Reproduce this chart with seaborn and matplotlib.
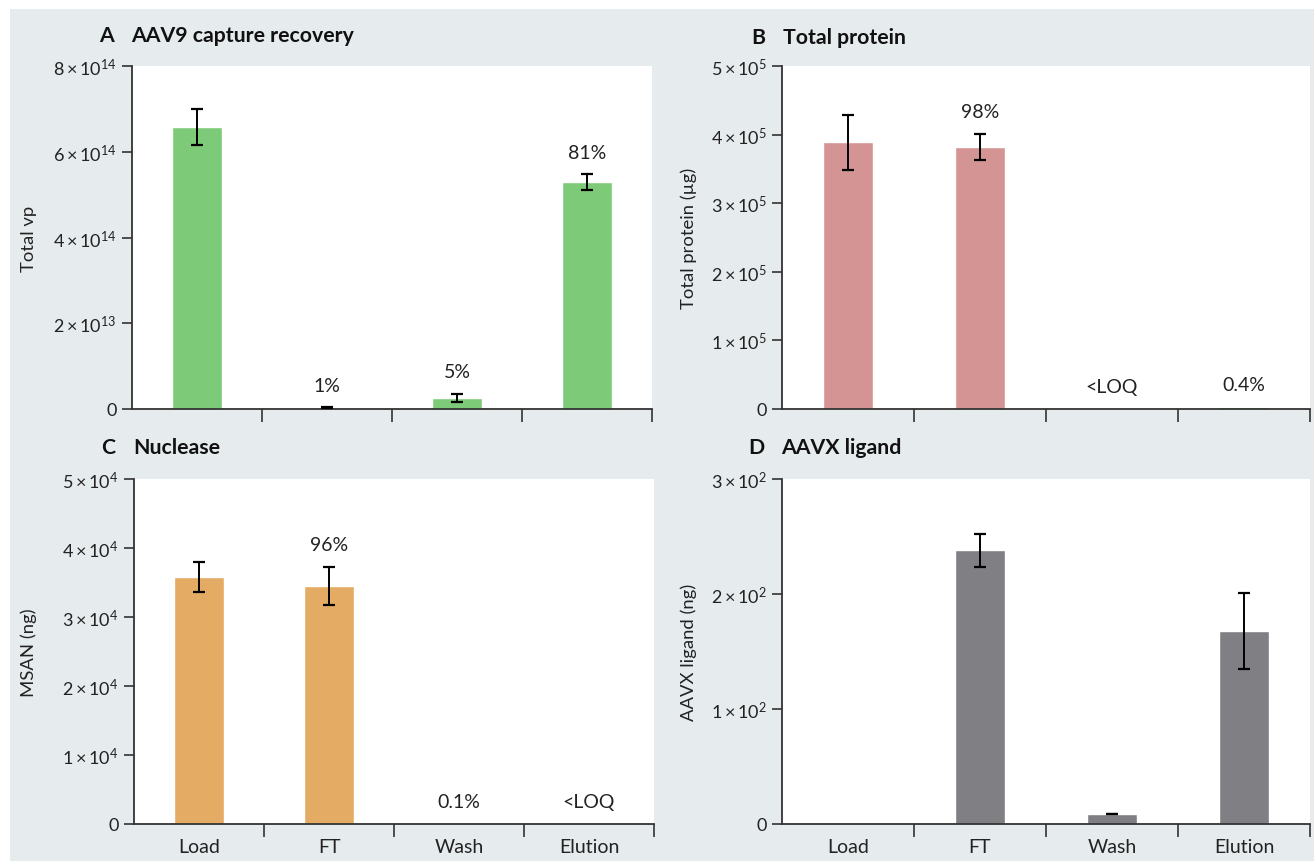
import numpy as np
import pandas as pd
import matplotlib
matplotlib.use("Agg")
import matplotlib.pyplot as plt
from matplotlib.patches import Rectangle
import seaborn as sns

# data
steps = ["Load", "FT", "Wash", "Elution"]

aav9_vp = [6.58e14, 0.03e14, 0.26e14, 5.29e14]
aav9_err = [0.42e14, 0.015e14, 0.10e14, 0.19e14]
aav9_pct = [None, "1%", "5%", "81%"]
aav9_ticks = [0, 2e14, 4e14, 6e14, 8e14]
aav9_ticklabels = ["0", r"$2\times10^{13}$", r"$4\times10^{14}$", r"$6\times10^{14}$", r"$8\times10^{14}$"]

protein_ug = [3.89e5, 3.82e5, 0, 0.035e5]
protein_err = [0.40e5, 0.19e5, np.nan, np.nan]
protein_pct = [None, "98%", "<LOQ", "0.4%"]
protein_ticks = [0, 1e5, 2e5, 3e5, 4e5, 5e5]
protein_ticklabels = ["0"] + [r"$%d\times10^{5}$" % i for i in range(1, 6)]

msan_ng = [3.58e4, 3.45e4, 35, 0]
msan_err = [0.22e4, 0.28e4, np.nan, np.nan]
msan_pct = [None, "96%", "0.1%", "<LOQ"]
msan_ticks = [0, 1e4, 2e4, 3e4, 4e4, 5e4]
msan_ticklabels = ["0"] + [r"$%d\times10^{4}$" % i for i in range(1, 6)]

ligand_ng = [0, 238, 8.7, 168]
ligand_err = [np.nan, 14.5, 0.4, 33]
ligand_pct = [None, None, None, None]
ligand_ticks = [0, 100, 200, 300]
ligand_ticklabels = ["0"] + [r"$%d\times10^{2}$" % i for i in range(1, 4)]

green = "#7dcb78"
pink = "#d49494"
orange = "#e3ab63"
grey = "#808084"
bg = "#e6ebed"

sns.set_theme(style="white")
plt.rcParams["font.family"] = ["Lato", "DejaVu Sans"]
plt.rcParams["mathtext.fontset"] = "custom"
plt.rcParams["mathtext.rm"] = "Lato"
plt.rcParams["mathtext.it"] = "Lato:italic"
plt.rcParams["mathtext.bf"] = "Lato:bold"

W, H = 1314, 862
fig = plt.figure(figsize=(W / 100, H / 100), dpi=100, facecolor="white")
fig.patches.append(Rectangle((10 / W, 0), 1, (H - 10) / H, transform=fig.transFigure,
                             facecolor=bg, edgecolor="none", zorder=-10))


def px_axes(x0, y0, x1, y1):
    return fig.add_axes([x0 / W, (H - y1) / H, (x1 - x0) / W, (y1 - y0) / H])


panels = [
    dict(box=(132, 67, 652, 410), vals=aav9_vp, err=aav9_err, pct=aav9_pct,
         colors=[green] * 4, ticks=aav9_ticks, tl=aav9_ticklabels, ylabel="Total vp",
         letter="A", title="AAV9 capture recovery", lx=99, tx=131, ty=36, ylx=29, xlab=False),
    dict(box=(782, 67, 1310, 410), vals=protein_ug, err=protein_err, pct=protein_pct,
         colors=[pink, pink, pink, "#33cc33"], ticks=protein_ticks, tl=protein_ticklabels,
         ylabel="Total protein (µg)",
         letter="B", title="Total protein", lx=751, tx=783, ty=38, ylx=689, xlab=False),
    dict(box=(134, 480, 654, 825), vals=msan_ng, err=msan_err, pct=msan_pct,
         colors=[orange] * 4, ticks=msan_ticks, tl=msan_ticklabels, ylabel="MSAN (ng)",
         letter="C", title="Nuclease", lx=101, tx=133, ty=448, ylx=29, xlab=True),
    dict(box=(782, 480, 1310, 825), vals=ligand_ng, err=ligand_err, pct=ligand_pct,
         colors=[grey] * 4, ticks=ligand_ticks, tl=ligand_ticklabels, ylabel="AAVX ligand (ng)",
         letter="D", title="AAVX ligand", lx=748, tx=781, ty=448, ylx=689, xlab=True),
]

for p in panels:
    ax = px_axes(*p["box"])
    df = pd.DataFrame({"step": steps, "value": p["vals"]})
    sns.barplot(data=df, x="step", y="value", hue="step", palette=p["colors"],
                width=0.38, errorbar=None, legend=False, saturation=1, ax=ax)
    x = np.arange(len(steps))
    ax.errorbar(x, p["vals"], yerr=p["err"], fmt="none", ecolor="black",
                elinewidth=1.4, capsize=4, capthick=1.6, zorder=5)
    tops = np.array(p["vals"]) + np.nan_to_num(np.array(p["err"], dtype=float))
    for xi, top, lab in zip(x, tops, p["pct"]):
        if lab:
            ax.annotate(lab, (xi, top), xytext=(0, 22), textcoords="offset pixels",
                        ha="center", va="center", fontsize=14, color="#222222")

    ax.set_xlim(-0.5, 3.5)
    ax.set_ylim(p["ticks"][0], p["ticks"][-1])
    ax.set_yticks(p["ticks"])
    ax.set_yticklabels(p["tl"], fontsize=13, color="#222222")
    ax.set_xticks(x)
    if p["xlab"]:
        ax.set_xticklabels(steps, fontsize=14, color="#222222")
    else:
        ax.set_xticklabels([])
    ax.set_xticks([0.5, 1.5, 2.5, 3.5], minor=True)
    ax.tick_params(axis="x", which="major", length=0, pad=10)
    ax.tick_params(axis="x", which="minor", length=9, width=1.2, color="#333333",
                   direction="out", bottom=True)
    ax.tick_params(axis="y", length=7, width=1.2, color="#333333", direction="out",
                   left=True, pad=4)
    ax.set_xlabel("")
    ax.set_ylabel("")
    for s in ["top", "right"]:
        ax.spines[s].set_visible(False)
    for s in ["left", "bottom"]:
        ax.spines[s].set_color("#333333")
        ax.spines[s].set_linewidth(1.3)
    ax.set_facecolor("white")

    x0, y0, x1, y1 = p["box"]
    fig.text(p["ylx"] / W, 1 - ((y0 + y1) / 2) / H, p["ylabel"], rotation=90,
             ha="center", va="center", fontsize=13.3, color="#222222")
    fig.text(p["lx"] / W, 1 - p["ty"] / H, p["letter"], ha="left", va="center",
             fontsize=15.3, fontweight="bold", color="#111111")
    fig.text(p["tx"] / W, 1 - p["ty"] / H, p["title"], ha="left", va="center",
             fontsize=15.3, fontweight="bold", color="#111111")

fig.savefig("out.png", dpi=100, facecolor="white")
